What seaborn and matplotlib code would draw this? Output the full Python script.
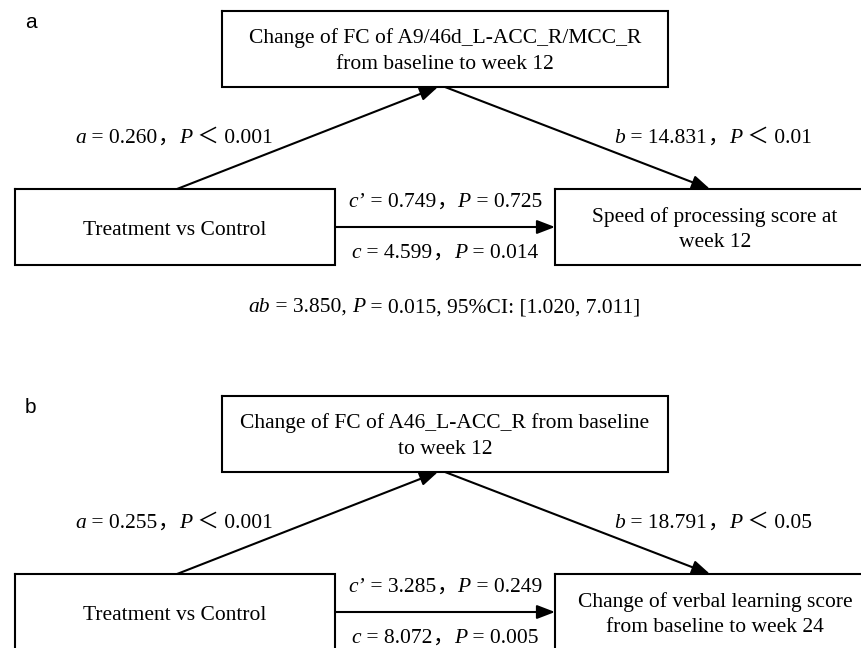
import matplotlib
matplotlib.use("Agg")
import matplotlib.pyplot as plt
import pandas as pd
import seaborn as sns
from matplotlib import font_manager

# ---- content of the two mediation diagrams ----
panel_tags = ["a", "b"]
exposure_label = "Treatment vs Control"
mediator_lines = [
    ["Change of FC of A9/46d_L-ACC_R/MCC_R", "from baseline to week 12"],
    ["Change of FC of A46_L-ACC_R from baseline", "to week 12"],
]
outcome_lines = [
    ["Speed of processing score at", "week 12"],
    ["Change of verbal learning score", "from baseline to week 24"],
]
a_coef = ["0.260", "0.255"]
a_pval = ["＜ 0.001", "＜ 0.001"]
b_coef = ["14.831", "18.791"]
b_pval = ["＜ 0.01", "＜ 0.05"]
cprime_coef = ["0.749", "3.285"]
cprime_pval = ["= 0.725", "= 0.249"]
c_coef = ["4.599", "8.072"]
c_pval = ["= 0.014", "= 0.005"]
ab_coef = ["3.850"]
ab_pval = ["0.015"]
ab_ci = [("1.020", "7.011")]

# ---- styling ----
sns.set_theme(style="white")
FAMILY = ["Liberation Serif", "Noto Sans CJK SC"]
plt.rcParams["font.family"] = FAMILY
W, H, DPI = 861, 648, 100
FS = 15.5
LW = 1.5

fig = plt.figure(figsize=(W / DPI, H / DPI), dpi=DPI)
ax = fig.add_axes([0, 0, 1, 1])
ax.set_xlim(0, W)
ax.set_ylim(H, 0)
ax.axis("off")


def _load(family, style):
    prop = font_manager.FontProperties(family=family, style=style)
    return font_manager.get_font(font_manager.findfont(prop))


SERIF_RM = _load("Liberation Serif", "normal")
SERIF_IT = _load("Liberation Serif", "italic")
CJK = _load("Noto Sans CJK SC", "normal")


def advance(s, italic):
    base = SERIF_IT if italic else SERIF_RM
    total = 0.0
    for ch in s:
        f = base if base.get_char_index(ord(ch)) else CJK
        f.set_size(FS, DPI)
        total += f.load_char(ord(ch)).linearHoriAdvance / 65536
    return total


def rich_text(cx, y, parts):
    """Draw mixed italic/upright runs on one baseline, centred on cx."""
    widths = [advance(s, it) for s, it in parts]
    x = cx - sum(widths) / 2
    for (s, it), w in zip(parts, widths):
        ax.text(x, y, s, fontsize=FS, family=FAMILY,
                fontstyle="italic" if it else "normal",
                ha="left", va="baseline", color="black")
        x += w


def arrow(p0, p1):
    ax.annotate("", xy=p1, xytext=p0, xycoords="data",
                arrowprops=dict(arrowstyle="-|>,head_length=0.78,head_width=0.3",
                                mutation_scale=14, lw=LW, color="black",
                                shrinkA=0, shrinkB=0))


# box geometry (pixels): x0, x1, y0, y1 for panel a; panel b is shifted down
boxes = {
    "mediator": (222, 668, 11, 87),
    "exposure": (15, 335, 189, 265),
    "outcome": (555, 875, 189, 265),
}
PANEL_SHIFT = 385

rows = []
for p in range(len(panel_tags)):
    dy = p * PANEL_SHIFT
    for name, (x0, x1, y0, y1) in boxes.items():
        xs = [x0, x1, x1, x0, x0]
        ys = [y0 + dy, y0 + dy, y1 + dy, y1 + dy, y0 + dy]
        for x, y in zip(xs, ys):
            rows.append({"x": x, "y": y, "box": f"{name}{p}"})
outline = pd.DataFrame(rows)
sns.lineplot(data=outline, x="x", y="y", units="box", estimator=None,
             sort=False, color="black", lw=LW, legend=False, ax=ax,
             solid_joinstyle="miter", solid_capstyle="projecting")
ax.set_xlim(0, W)
ax.set_ylim(H, 0)
ax.axis("off")

for p, tag in enumerate(panel_tags):
    dy = p * PANEL_SHIFT
    mx0, mx1, my0, my1 = boxes["mediator"]
    ex0, ex1, ey0, ey1 = boxes["exposure"]
    ox0, ox1, oy0, oy1 = boxes["outcome"]
    mcx = (mx0 + mx1) / 2
    ecx = (ex0 + ex1) / 2
    ocx = (ox0 + ox1) / 2
    gap_cx = (ex1 + ox0) / 2
    mid_y = (ey0 + ey1) / 2 + dy

    ax.text(25, 28 + dy, tag, family="Liberation Sans", fontsize=15,
            ha="left", va="baseline", color="black")

    # box texts
    for i, line in enumerate(mediator_lines[p]):
        ax.text(mcx, 43 + 26 * i + dy, line, fontsize=FS, ha="center",
                va="baseline", color="black")
    ax.text(ecx, 235 + dy, exposure_label, fontsize=FS, ha="center",
            va="baseline", color="black")
    for i, line in enumerate(outcome_lines[p]):
        ax.text(ocx, 222 + 25 * i + dy, line, fontsize=FS, ha="center",
                va="baseline", color="black")

    # paths
    arrow((177, ey0 + dy), (438, my1 + dy))
    arrow((445, my1 + dy), (710, oy0 + dy))
    arrow((ex1, mid_y), (ox0, mid_y))

    # path coefficients
    rich_text(ecx - 1, 143 + dy, [("a", True), (f" = {a_coef[p]}", False),
                                  ("，", False), ("P", True), (f" {a_pval[p]}", False)])
    rich_text(ocx - 2, 143 + dy, [("b", True), (f" = {b_coef[p]}", False),
                                  ("，", False), ("P", True), (f" {b_pval[p]}", False)])
    rich_text(gap_cx, 207 + dy, [("c’", True), (f" = {cprime_coef[p]}", False),
                                 ("，", False), ("P", True), (f" {cprime_pval[p]}", False)])
    rich_text(gap_cx, 258 + dy, [("c", True), (f" = {c_coef[p]}", False),
                                 ("，", False), ("P", True), (f" {c_pval[p]}", False)])
    if p < len(ab_coef):
        lo, hi = ab_ci[p]
        rich_text(gap_cx, 312 + dy, [("ab", True), (f" = {ab_coef[p]}, ", False),
                                     ("P", True),
                                     (f" = {ab_pval[p]}, 95%CI: [{lo}, {hi}]", False)])

fig.savefig("out.png", dpi=DPI, facecolor="white")
